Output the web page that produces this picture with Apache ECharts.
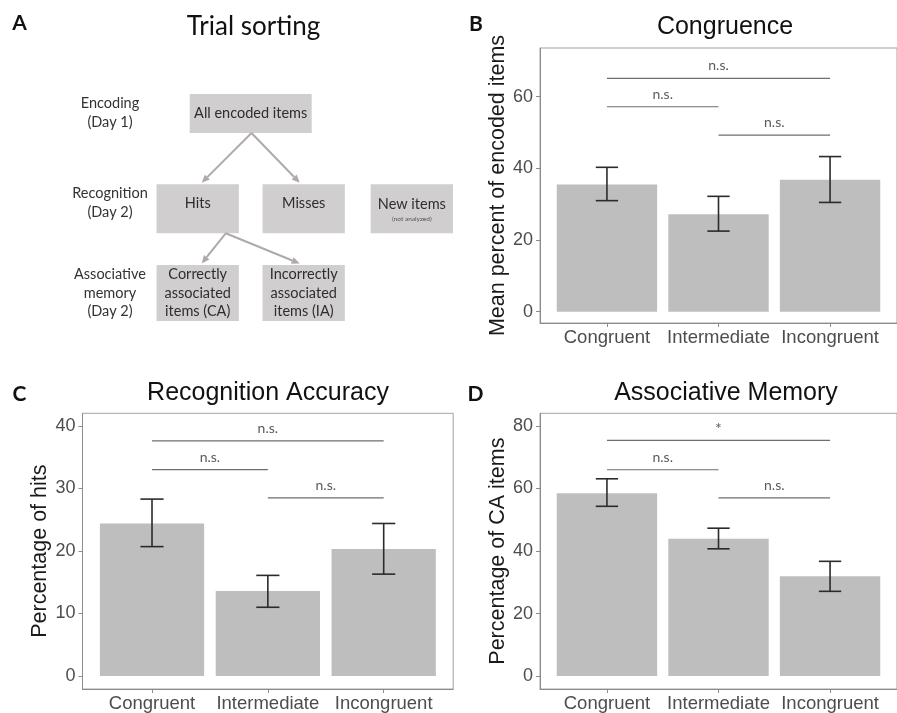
<!DOCTYPE html>
<html><head><meta charset="utf-8">
<script src="https://cdn.jsdelivr.net/npm/echarts@6/dist/echarts.min.js"></script>
<style>html,body{margin:0;padding:0;background:#fff}#main{width:897px;height:713px}</style>
</head><body><div id="main"></div>
<script>
// ---------- DATA ----------
const categories = ['Congruent', 'Intermediate', 'Incongruent'];

const congruenceMean = [35.5, 27.2, 36.8];
const congruenceLow  = [31.0, 22.5, 30.5];
const congruenceHigh = [40.3, 32.2, 43.3];
const congruenceTicks = [0, 20, 40, 60];
const congruenceBracketY = [65.1, 57.2, 49.3];
const congruenceBracketLabels = ['n.s.', 'n.s.', 'n.s.'];

const recognitionMean = [24.4, 13.6, 20.3];
const recognitionLow  = [20.7, 11.0, 16.3];
const recognitionHigh = [28.3, 16.1, 24.4];
const recognitionTicks = [0, 10, 20, 30, 40];
const recognitionBracketY = [37.6, 33.0, 28.5];
const recognitionBracketLabels = ['n.s.', 'n.s.', 'n.s.'];

const associativeMean = [58.5, 43.9, 31.9];
const associativeLow  = [54.3, 40.7, 27.1];
const associativeHigh = [63.1, 47.3, 36.7];
const associativeTicks = [0, 20, 40, 60, 80];
const associativeBracketY = [75.4, 66.0, 57.0];
const associativeBracketLabels = ['*', 'n.s.', 'n.s.'];

const bracketPairs = [[1, 3], [1, 2], [2, 3]];

// Flowchart (panel A)
const flowRows = ['Encoding\n(Day 1)', 'Recognition\n(Day 2)', 'Associative\nmemory\n(Day 2)'];
const flowLabels = ['All encoded items', 'Hits', 'Misses', 'New items',
  'Correctly\nassociated\nitems (CA)', 'Incorrectly\nassociated\nitems (IA)'];
const flowNotes = ['', '', '', '(not analyzed)', '', ''];
const flowCols = [1.5, 1, 2, 3.02, 1, 2];
const flowRowIdx = [0, 1, 1, 1, 2, 2];
const flowEdges = [[0, 1], [0, 2], [1, 4], [1, 5]];

// ---------- STYLE / LAYOUT ----------
const SANS = "'Liberation Sans', Arial, sans-serif";
const CAL = "Lato, sans-serif";
const rowBoxSize = [[122, 39], [82.3, 49], [82.3, 56]];
const rowBoxShift = [0.5, 5.8, 0];
const edgeStartDx = [0.8, 28, 0, 0, 0, 0];

const panels = [
  {letter: 'B', title: 'Congruence', yName: 'Mean percent of encoded items',
   mean: congruenceMean, low: congruenceLow, high: congruenceHigh, ticks: congruenceTicks,
   bY: congruenceBracketY, bL: congruenceBracketLabels,
   grid: {left: 540, top: 48, width: 370.7, height: 275}, yMin: -3.15, yMax: 73.6,
   titlePos: [725, 27], letterPos: [476, 24]},
  {letter: 'C', title: 'Recognition Accuracy', yName: 'Percentage of hits',
   mean: recognitionMean, low: recognitionLow, high: recognitionHigh, ticks: recognitionTicks,
   bY: recognitionBracketY, bL: recognitionBracketLabels,
   grid: {left: 82.5, top: 413.3, width: 370.7, height: 276.7}, yMin: -2.07, yMax: 42.02,
   titlePos: [268, 393], letterPos: [19.5, 394]},
  {letter: 'D', title: 'Associative Memory', yName: 'Percentage of CA items',
   mean: associativeMean, low: associativeLow, high: associativeHigh, ticks: associativeTicks,
   bY: associativeBracketY, bL: associativeBracketLabels,
   grid: {left: 540, top: 413.3, width: 370.7, height: 276.7}, yMin: -4.14, yMax: 84.05,
   titlePos: [726, 393], letterPos: [475.5, 394.5]}
];

const grids = [{left: 150, top: 68, width: 312.7, height: 270, show: false}];
const xAxes = [{type: 'value', gridIndex: 0, min: 0.55, max: 3.5, show: false}];
const yAxes = [{type: 'category', gridIndex: 0, data: flowRows, inverse: true,
  axisLine: {show: false}, axisTick: {show: false}, splitLine: {show: false},
  axisLabel: {align: 'center', margin: 40, fontFamily: CAL, fontSize: 14.5, color: '#333', lineHeight: 18.5}}];
const series = [];
const graphics = [];

// Panel A title + letter
graphics.push({type: 'text', x: 253.5, y: 27, style: {text: 'Trial sorting', fontFamily: CAL, fontSize: 26, fill: '#111', align: 'center', verticalAlign: 'middle'}});
graphics.push({type: 'text', x: 19.5, y: 23, style: {text: 'A', fontFamily: CAL, fontWeight: 'bold', fontSize: 21, fill: '#111', align: 'center', verticalAlign: 'middle'}});

// flow edges
series.push({
  type: 'custom', xAxisIndex: 0, yAxisIndex: 0, silent: true, z: 3,
  data: flowEdges.map(e => [flowCols[e[0]], flowRowIdx[e[0]]]),
  encode: {x: 0, y: 1},
  renderItem: function (params, api) {
    const e = flowEdges[params.dataIndex];
    const s = e[0], t = e[1];
    const ps = api.coord([flowCols[s], flowRowIdx[s]]);
    const pt = api.coord([flowCols[t], flowRowIdx[t]]);
    const rs = flowRowIdx[s], rt = flowRowIdx[t];
    const x1 = ps[0] + edgeStartDx[s];
    const y1 = ps[1] + rowBoxShift[rs] + rowBoxSize[rs][1] / 2;
    const x2 = pt[0] + Math.sign(x1 - pt[0]) * 4;
    const y2 = pt[1] + rowBoxShift[rt] - rowBoxSize[rt][1] / 2 - 1.5;
    const dx = x2 - x1, dy = y2 - y1, L = Math.sqrt(dx * dx + dy * dy);
    const ux = dx / L, uy = dy / L;
    const hl = 8, hw = 3.5;
    const bx = x2 - ux * hl, by = y2 - uy * hl;
    const col = '#aeaaaa';
    return {type: 'group', children: [
      {type: 'line', shape: {x1: x1, y1: y1, x2: bx, y2: by}, style: {stroke: col, lineWidth: 2}},
      {type: 'polygon', shape: {points: [[x2, y2], [bx - uy * hw, by + ux * hw], [bx + uy * hw, by - ux * hw]]}, style: {fill: col}}
    ]};
  }
});
// flow nodes
series.push({
  type: 'custom', xAxisIndex: 0, yAxisIndex: 0, silent: true, z: 2,
  data: flowLabels.map((l, i) => [flowCols[i], flowRowIdx[i]]),
  encode: {x: 0, y: 1},
  renderItem: function (params, api) {
    const i = params.dataIndex;
    const c = api.coord([api.value(0), api.value(1)]);
    const r = flowRowIdx[i];
    const w = rowBoxSize[r][0], h = rowBoxSize[r][1];
    const cy = c[1] + rowBoxShift[r];
    const ch = [
      {type: 'rect', shape: {x: c[0] - w / 2, y: cy - h / 2, width: w, height: h}, style: {fill: '#d0cece'}},
      {type: 'text', x: c[0], y: c[1] + (flowNotes[i] ? 1 : 0), style: {text: flowLabels[i], fill: '#2e2e2e', fontFamily: CAL, fontSize: 14.5, align: 'center', verticalAlign: 'middle', lineHeight: 18.5}}
    ];
    if (flowNotes[i]) ch.push({type: 'text', x: c[0], y: c[1] + 16, style: {text: flowNotes[i], fill: '#555', fontFamily: CAL, fontSize: 6.5, align: 'center', verticalAlign: 'middle'}});
    return {type: 'group', children: ch};
  }
});

panels.forEach((p, k) => {
  const gi = k + 1;
  grids.push(Object.assign({show: true, borderColor: '#a3a3a3', borderWidth: 1, backgroundColor: 'transparent'}, p.grid));
  xAxes.push({type: 'value', gridIndex: gi, min: 0.4, max: 3.6,
    axisLine: {show: true, onZero: false, lineStyle: {color: '#8c8c8c', width: 1}},
    axisTick: {show: true, length: 4, customValues: [1, 2, 3], lineStyle: {color: '#8c8c8c'}},
    axisLabel: {customValues: [1, 2, 3], formatter: v => categories[Math.round(v) - 1], fontFamily: SANS, fontSize: 18.5, color: '#4d4d4d', margin: 5},
    splitLine: {show: false}});
  yAxes.push({type: 'value', gridIndex: gi, min: p.yMin, max: p.yMax,
    name: p.yName, nameLocation: 'middle', nameGap: 31,
    nameTextStyle: {fontFamily: SANS, fontSize: 21.5, color: '#1a1a1a'},
    axisLine: {show: true, onZero: false, lineStyle: {color: '#8c8c8c', width: 1}},
    axisTick: {show: true, length: 4, customValues: p.ticks, lineStyle: {color: '#8c8c8c'}},
    axisLabel: {customValues: p.ticks, fontFamily: SANS, fontSize: 18, color: '#4d4d4d', margin: 7},
    splitLine: {show: false}});
  series.push({type: 'bar', xAxisIndex: gi, yAxisIndex: gi, silent: true, barWidth: '90%', z: 2,
    itemStyle: {color: '#bebebe'},
    data: categories.map((c, i) => [i + 1, p.mean[i]])});
  series.push({type: 'custom', xAxisIndex: gi, yAxisIndex: gi, silent: true, z: 10,
    data: categories.map((c, i) => [i + 1, p.low[i], p.high[i]]),
    encode: {x: 0, y: [1, 2]},
    renderItem: function (params, api) {
      const x = api.value(0);
      const a = api.coord([x, api.value(2)]), b = api.coord([x, api.value(1)]);
      const half = api.size([0.1, 0])[0];
      const st = {stroke: '#2b2b2b', lineWidth: 1.6};
      return {type: 'group', children: [
        {type: 'line', shape: {x1: a[0], y1: a[1], x2: b[0], y2: b[1]}, style: st},
        {type: 'line', shape: {x1: a[0] - half, y1: a[1], x2: a[0] + half, y2: a[1]}, style: st},
        {type: 'line', shape: {x1: b[0] - half, y1: b[1], x2: b[0] + half, y2: b[1]}, style: st}
      ]};
    }});
  series.push({type: 'custom', xAxisIndex: gi, yAxisIndex: gi, silent: true, z: 10,
    data: bracketPairs.map((bp, j) => [bp[0], p.bY[j], bp[1]]),
    encode: {x: 0, y: 1},
    renderItem: function (params, api) {
      const j = params.dataIndex;
      const a = api.coord([api.value(0), api.value(1)]);
      const b = api.coord([api.value(2), api.value(1)]);
      const isStar = p.bL[j] === '*';
      return {type: 'group', children: [
        {type: 'line', shape: {x1: a[0], y1: a[1], x2: b[0], y2: b[1]}, style: {stroke: '#6e6e6e', lineWidth: 1.2}},
        {type: 'text', x: (a[0] + b[0]) / 2, y: a[1] - (isStar ? 11 : 12.6), style: {text: p.bL[j], fill: '#5a5a5a', fontFamily: CAL, fontSize: isStar ? 16 : 14, align: 'center', verticalAlign: 'middle'}}
      ]};
    }});
  graphics.push({type: 'text', x: p.titlePos[0], y: p.titlePos[1], style: {text: p.title, fontFamily: SANS, fontSize: 25, fill: '#111', align: 'center', verticalAlign: 'middle'}});
  graphics.push({type: 'text', x: p.letterPos[0], y: p.letterPos[1], style: {text: p.letter, fontFamily: CAL, fontWeight: 'bold', fontSize: 21, fill: '#111', align: 'center', verticalAlign: 'middle'}});
});

const chart = echarts.init(document.getElementById('main'), null, {renderer: 'canvas'});
chart.setOption({
  animation: false,
  backgroundColor: '#ffffff',
  grid: grids, xAxis: xAxes, yAxis: yAxes, series: series,
  graphic: graphics
});
</script>
</body></html>
